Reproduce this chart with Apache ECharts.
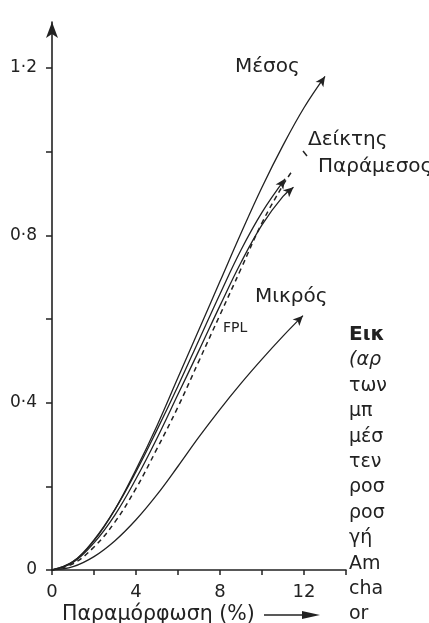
<!DOCTYPE html>
<html><head><meta charset="utf-8">
<script src="https://cdn.jsdelivr.net/npm/echarts@6/dist/echarts.min.js"></script>
<style>html,body{margin:0;padding:0;background:#fff}#c{width:429px;height:623px}</style>
</head><body><div id="c"></div>
<script>
// Axis ticks and labels
const xTicks = [0, 2, 4, 6, 8, 10, 12, 14];
const xLabels = [0, 4, 8, 12];
const yTicks = [0, 0.2, 0.4, 0.6, 0.8, 1.0, 1.2];
const yLabels = [0, 0.4, 0.8, 1.2];

// Curves: [strain %, value]
const mesos = [[0,0],[1,0.02],[2,0.07],[3,0.145],[4,0.24],[5,0.345],[6,0.46],[7,0.575],[8,0.69],[9,0.805],[10,0.915],[11,1.015],[12,1.105],[13,1.18]];
const deiktis = [[0,0],[1,0.02],[2,0.072],[3,0.145],[4,0.235],[5,0.335],[6,0.44],[7,0.55],[8,0.66],[9,0.765],[10,0.855],[11.1,0.935]];
const paramesos = [[0,0],[1,0.018],[2,0.065],[3,0.132],[4,0.218],[5,0.315],[6,0.42],[7,0.525],[8,0.632],[9,0.735],[10,0.825],[11,0.893],[11.5,0.915]];
const fpl = [[0,0],[1,0.015],[2,0.055],[3,0.115],[4,0.195],[5,0.29],[6,0.39],[7,0.5],[8,0.61],[9,0.72],[10,0.83],[11,0.92],[11.45,0.955]];
const mikros = [[0,0],[1,0.008],[2,0.032],[3,0.07],[4,0.12],[5,0.18],[6,0.248],[7,0.318],[8,0.384],[9,0.446],[10,0.504],[11,0.559],[11.95,0.608]];

const seriesDefs = [
  {name: 'Μέσος', data: mesos, arrow: true, dashed: false},
  {name: 'Δείκτης', data: deiktis, arrow: true, dashed: false},
  {name: 'Παράμεσος', data: paramesos, arrow: true, dashed: false},
  {name: 'FPL', data: fpl, arrow: false, dashed: true},
  {name: 'Μικρός', data: mikros, arrow: true, dashed: false}
];

const caption = ['Εικ', '(αρ', 'των', 'μπ', 'μέσ', 'τεν', 'ροσ', 'ροσ', 'γή', 'Am', 'cha', 'or'];

const INK = '#222';
const FONT = 'DejaVu Sans';
const fmtY = v => (v === 0 ? '0' : v.toFixed(1).replace('.', '·'));
const fmtX = v => String(v);

const chart = echarts.init(document.getElementById('c'), null, {renderer: 'canvas'});

function buildSeries(rots) {
  return seriesDefs.map((d, i) => {
    const n = d.data.length;
    const data = d.data.map((p, j) => {
      if (j === n - 1 && d.arrow) {
        return {value: p, symbol: 'arrow', symbolSize: [7, 10], symbolRotate: rots ? rots[i] : 0};
      }
      return {value: p, symbol: 'none'};
    });
    return {
      type: 'line', name: d.name, data: data, smooth: 0.4,
      showSymbol: true, symbol: 'none', silent: true, z: 3,
      itemStyle: {color: INK},
      lineStyle: {color: INK, width: d.dashed ? 1.5 : 1.3, type: d.dashed ? [5, 4] : 'solid'}
    };
  });
}

const graphics = [];
const lbl = (text, x, y, size, extra) => graphics.push({
  type: 'text', x: x, y: y, silent: true,
  style: Object.assign({text: text, fill: INK, font: size + 'px "' + FONT + '"', textVerticalAlign: 'middle', textAlign: 'left'}, extra || {})
});
lbl('Μέσος', 235, 67, 20);
lbl('Δείκτης', 308, 140, 20);
lbl('Παράμεσος', 318, 167, 20);
lbl('Μικρός', 255, 297, 20);
lbl('FPL', 223, 328, 14);
graphics.push({type: 'line', silent: true, shape: {x1: 303, y1: 151, x2: 307, y2: 156}, style: {stroke: INK, lineWidth: 1.5}});
// axis title with arrow
lbl('Παραμόρφωση (%)', 62, 615, 20.5);
graphics.push({type: 'line', silent: true, shape: {x1: 264, y1: 615, x2: 306, y2: 615}, style: {stroke: INK, lineWidth: 1.5}});
graphics.push({type: 'polygon', silent: true, shape: {points: [[320, 615], [302, 611], [302, 619]]}, style: {fill: INK}});
// caption fragment
caption.forEach((t, i) => {
  lbl(t, 349, 335 + i * 25.4, 19, i === 0 ? {font: 'bold 20px "' + FONT + '"'} : (i === 1 ? {font: 'italic 19px "' + FONT + '"'} : {}));
});

const option = {
  animation: false,
  backgroundColor: '#fff',
  grid: {left: 52, right: 83, top: 22, bottom: 53, containLabel: false},
  xAxis: {
    type: 'value', min: 0, max: 14, interval: 2,
    axisLine: {show: true, onZero: false, lineStyle: {color: INK, width: 1.6}},
    axisTick: {show: true, customValues: xTicks, length: 5, lineStyle: {color: INK, width: 1.5}},
    axisLabel: {customValues: xLabels, formatter: fmtX, color: INK, fontSize: 18, fontFamily: FONT, margin: 13},
    splitLine: {show: false}
  },
  yAxis: {
    type: 'value', min: 0, max: 1.31, interval: 0.2,
    axisLine: {show: true, onZero: false, symbol: ['none', 'arrow'], symbolSize: [9, 16], lineStyle: {color: INK, width: 1.6}},
    axisTick: {show: true, customValues: yTicks, length: 6, lineStyle: {color: INK, width: 1.5}},
    axisLabel: {customValues: yLabels, formatter: fmtY, color: INK, fontSize: 17, fontFamily: FONT, margin: 15},
    splitLine: {show: false}
  },
  graphic: graphics,
  series: buildSeries(null)
};
chart.setOption(option);

// orient arrowheads along the final segment of each curve
const rots = seriesDefs.map(d => {
  const n = d.data.length;
  const a = chart.convertToPixel({xAxisIndex: 0, yAxisIndex: 0}, d.data[n - 2]);
  const b = chart.convertToPixel({xAxisIndex: 0, yAxisIndex: 0}, d.data[n - 1]);
  const ang = Math.atan2(-(b[1] - a[1]), b[0] - a[0]) * 180 / Math.PI;
  return ang - 90;
});
chart.setOption({series: buildSeries(rots)});
</script></body></html>
